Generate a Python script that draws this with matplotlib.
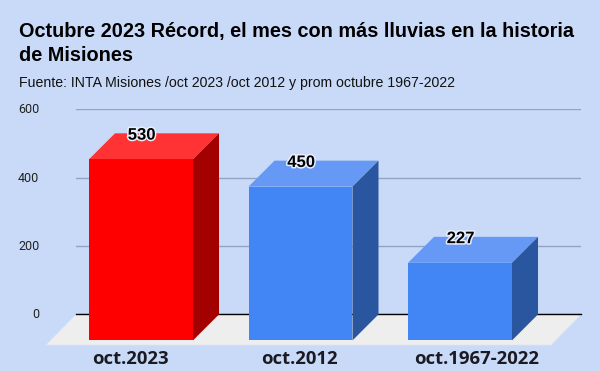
import matplotlib
matplotlib.use("Agg")
import matplotlib.pyplot as plt
from matplotlib.patches import Polygon
from matplotlib.transforms import ScaledTranslation, Affine2D
import matplotlib.patheffects as pe

categories = ["oct.2023", "oct.2012", "oct.1967-2022"]
values = [530, 450, 227]
front_colors = ["#ff0000", "#4285f4", "#4285f4"]
top_colors = ["#ff3333", "#6699f5", "#6699f5"]
side_colors = ["#a30000", "#2a56a0", "#2a56a0"]
y_ticks = [0, 200, 400, 600]
title_lines = "Octubre 2023 Récord, el mes con más lluvias en la historia\nde Misiones"
subtitle = "Fuente: INTA Misiones /oct 2023 /oct 2012 y prom octubre 1967-2022"

W, H = 600, 371
BG = "#c9daf8"
fig = plt.figure(figsize=(W / 100, H / 100), dpi=100, facecolor=BG)
L, R, T, B = 76, 581, 109.4, 314.4
ax = fig.add_axes([L / W, 1 - B / H, (R - L) / W, (B - T) / H])
ax.patch.set_visible(False)
for s in ax.spines.values():
    s.set_visible(False)

ax.set_ylim(0, 600)
slot = 159.5
ax.set_xlim(-(141 - L) / slot, (R - 141) / slot)
bw = 104 / slot

ax.set_yticks(y_ticks)
ax.set_yticklabels(y_ticks, fontsize=9, family="Roboto", color="#222222")
ax.tick_params(axis="y", length=0, pad=26.5)
for lab in ax.get_yticklabels():
    lab.set_transform(lab.get_transform() + ScaledTranslation(0, 1 / 100, fig.dpi_scale_trans))
ax.grid(axis="y", color="#94a3c4", lw=1)
ax.set_axisbelow(True)

dpx = 26
dx = dpx / slot
dy = dpx * 600 / (B - T)

floor = Polygon([(L, H - B), (R, H - B), (551, H - 345), (46, H - 345)], closed=True,
                facecolor="#eeeeee", edgecolor="#dfe5ef", lw=0.5,
                transform=Affine2D(), clip_on=False, zorder=1.2)
ax.add_patch(floor)
ax.axhline(0, color="black", lw=1, zorder=1.5, clip_on=False)

x = list(range(len(values)))
base = -dy
for i, v in zip(x, values):
    xl, xr = i - bw / 2, i + bw / 2
    top = v - dy
    ax.add_patch(Polygon([(xl, top), (xr, top), (xr + dx, v), (xl + dx, v)],
                         facecolor=top_colors[i], edgecolor="none", zorder=3, clip_on=False))
    ax.add_patch(Polygon([(xr, base), (xr + dx, 0), (xr + dx, v), (xr, top)],
                         facecolor=side_colors[i], edgecolor="none", zorder=3, clip_on=False))
ax.bar(x, values, width=bw, bottom=base, color=front_colors, zorder=4, clip_on=False)

halo = [pe.withStroke(linewidth=2.2, foreground="#e8eefb")]
for i, v in zip(x, values):
    ax.annotate(str(v), (i, v), xytext=(0.4, -1.3), textcoords="offset points",
                ha="center", va="center", fontsize=12, fontweight="bold",
                family="Liberation Sans", color="black", zorder=6,
                path_effects=halo, annotation_clip=False)

ax.set_xticks(x)
ax.set_xticklabels(categories, fontsize=13.3, fontweight="bold", family="Open Sans", color="#1a1a22")
ax.tick_params(axis="x", length=0, pad=25.5)
offsets = [-11, -1.5, 17]
for lab, off in zip(ax.get_xticklabels(), offsets):
    lab.set_transform(lab.get_transform() + ScaledTranslation(off / 100, 0, fig.dpi_scale_trans))

fig.text(19 / W, 1 - 31.3 / H, title_lines.split("\n")[0], fontsize=14.3, fontweight="bold",
         family="Liberation Sans", color="black", ha="left", va="center")
fig.text(19 / W, 1 - 55.3 / H, title_lines.split("\n")[1], fontsize=14.3, fontweight="bold",
         family="Liberation Sans", color="black", ha="left", va="center")
fig.text(19 / W, 1 - 83 / H, subtitle, fontsize=10.2, family="Liberation Sans", color="#111111",
         ha="left", va="center")

fig.savefig("out.png", dpi=100, facecolor=BG)
